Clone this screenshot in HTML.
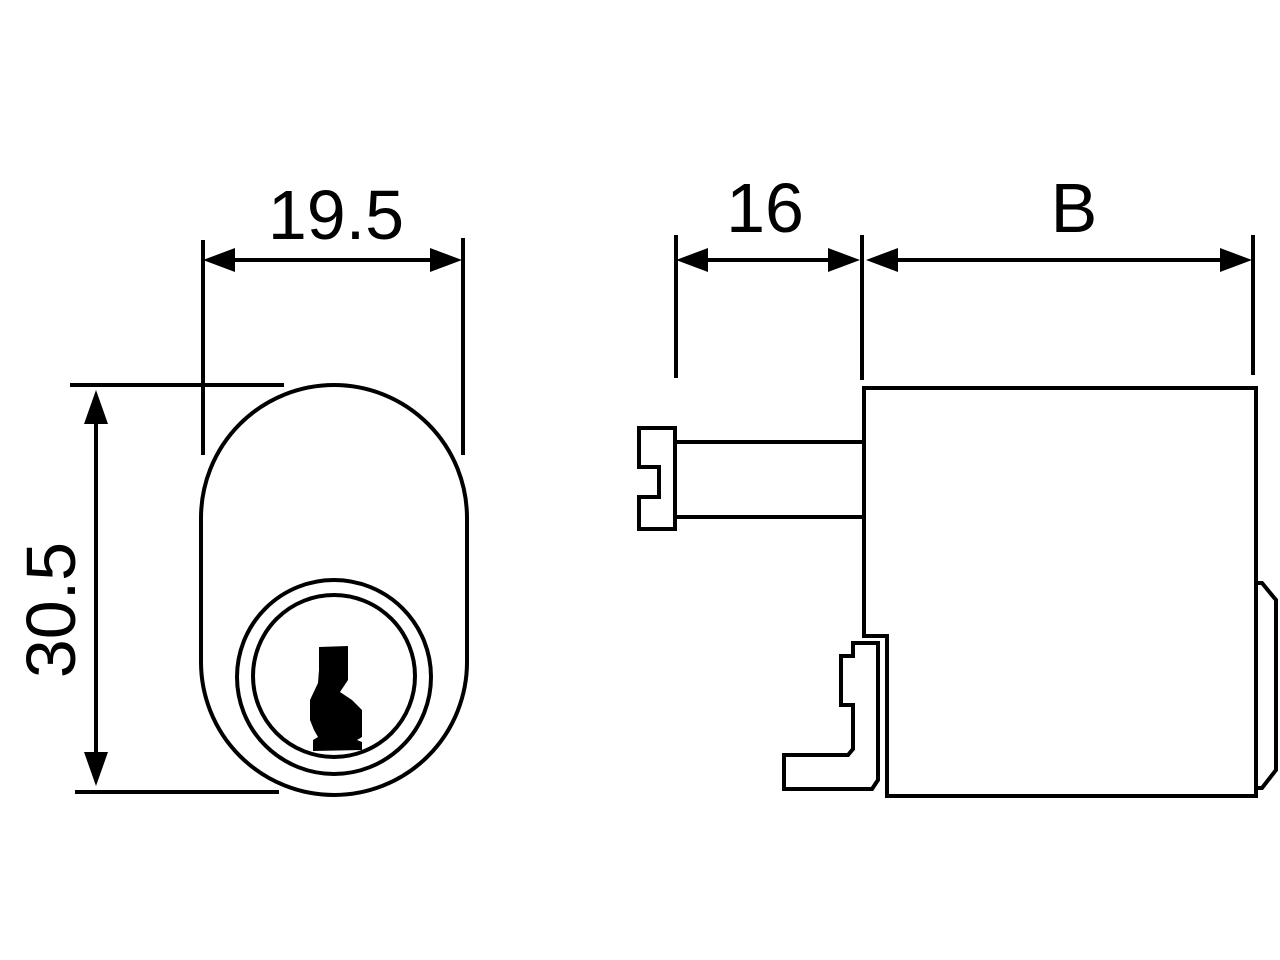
<!DOCTYPE html>
<html><head><style>html,body{margin:0;padding:0;background:#fff}svg{display:block}</style></head>
<body>
<svg width="1280" height="960" viewBox="0 0 1280 960" xmlns="http://www.w3.org/2000/svg">
<g stroke="#000" stroke-width="4" fill="none">
<!-- 19.5 dim -->
<line x1="203" y1="240" x2="203" y2="455"/>
<line x1="463" y1="238" x2="463" y2="455"/>
<line x1="215" y1="260" x2="450" y2="260"/>
<!-- 30.5 dim -->
<line x1="70" y1="385" x2="284" y2="385"/>
<line x1="75" y1="792" x2="279" y2="792"/>
<line x1="96" y1="405" x2="96" y2="772"/>
<!-- 16 dim -->
<line x1="676" y1="235" x2="676" y2="378"/>
<line x1="862" y1="235" x2="862" y2="380"/>
<line x1="688" y1="260" x2="850" y2="260"/>
<!-- B dim -->
<line x1="1253" y1="235" x2="1253" y2="375"/>
<line x1="878" y1="260" x2="1240" y2="260"/>
<!-- oval -->
<path d="M201,518 A133,133 0 0 1 467,518 L467,662 A133,133 0 0 1 201,662 Z"/>
<circle cx="334" cy="677" r="97"/>
<circle cx="334" cy="676" r="81"/>
<!-- side body -->
<path d="M864,388 L1256,388 L1256,796 L887,796 L887,636 L864,636 Z"/>
<path d="M1256,583 L1262,583 L1276,600 L1276,770 L1262,788 L1256,788"/>
<!-- shaft -->
<path d="M639,428 L675,428 L675,529 L639,529 L639,497 L659,497 L659,467 L639,467 Z"/>
<line x1="675" y1="442" x2="864" y2="442"/>
<line x1="675" y1="517" x2="864" y2="517"/>
<!-- latch -->
<path d="M853,643 L878,643 L878,780 L872,789 L784,789 L784,755 L848,755 L853,749 L853,705 L841,705 L841,656 L853,656 Z"/>
</g>
<g fill="#000">
<polygon points="203,260 235,248 235,272"/>
<polygon points="462,260 430,248 430,272"/>
<polygon points="96,390 84,424 108,424"/>
<polygon points="96,786 84,752 108,752"/>
<polygon points="676,260 708,248 708,272"/>
<polygon points="860,260 828,248 828,272"/>
<polygon points="866,260 898,248 898,272"/>
<polygon points="1252,260 1220,248 1220,272"/>
<!-- keyhole -->
<path d="M319,647 L348,646 L348,680 L340,692 L352,700 L362,710 L362,737 L357,740 L362,742 L362,750 L313,751 L313,740 L318,737 L314,730 L310,720 L310,700 L318,683 L319,670 Z"/>
</g>
<g font-family="Liberation Sans, Arial, sans-serif" font-size="70" fill="#000">
<text x="336" y="239" text-anchor="middle">19.5</text>
<text x="765" y="232" text-anchor="middle">16</text>
<text x="1074" y="232" text-anchor="middle">B</text>
<text transform="translate(75,610) rotate(-90)" text-anchor="middle">30.5</text>
</g>
</svg>
</body></html>
